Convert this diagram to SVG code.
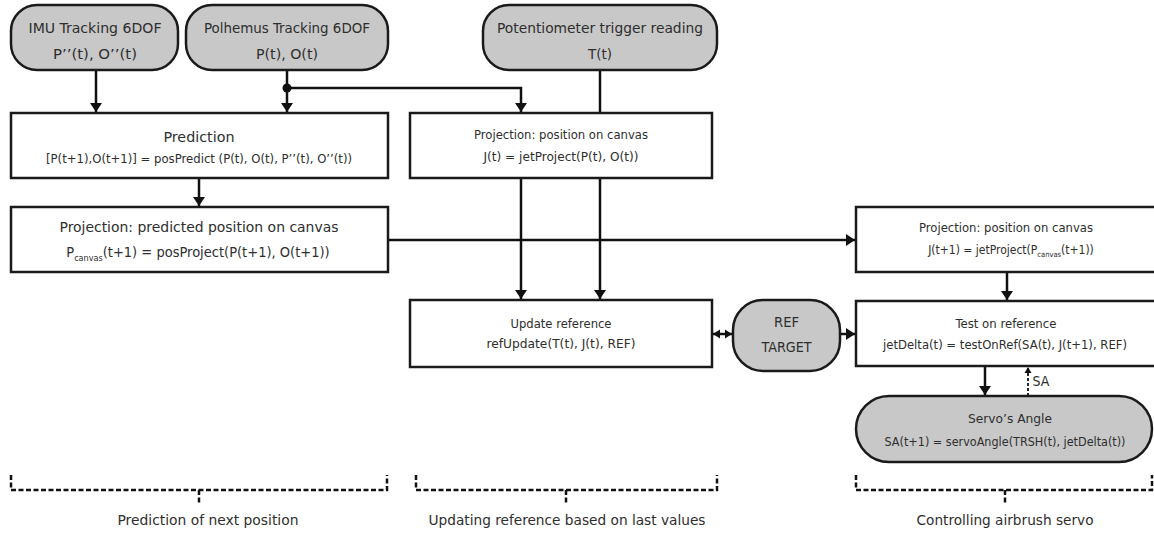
<svg xmlns="http://www.w3.org/2000/svg" width="1154" height="537" viewBox="0 0 1154 537">
<style>
.t{font-family:"DejaVu Sans Condensed","DejaVu Sans",sans-serif;fill:#2e2e2e;text-anchor:middle}
.big{font-size:14.5px}
.sm{font-size:11.5px}
.box{fill:#fff;stroke:#1a1a1a;stroke-width:2.5}
.rnd{fill:#c8c8c8;stroke:#1a1a1a;stroke-width:2.5}
.ln{fill:none;stroke:#111;stroke-width:2.5}
.dash{fill:none;stroke:#111;stroke-width:2.5;stroke-dasharray:5 2.5}
</style>
<defs>
<marker id="ah" markerUnits="userSpaceOnUse" markerWidth="12" markerHeight="12" refX="9" refY="6" orient="auto">
<path d="M0,0 L9,6 L0,12 z" fill="#111"/>
</marker>
<marker id="ahs" markerUnits="userSpaceOnUse" markerWidth="10" markerHeight="10" refX="7" refY="5" orient="auto-start-reverse">
<path d="M0,0.5 L7,5 L0,9.5 z" fill="#111"/>
</marker>
<marker id="ahd" markerUnits="userSpaceOnUse" markerWidth="8" markerHeight="8" refX="6" refY="4" orient="auto">
<path d="M0,0.5 L6,4 L0,7.5 z" fill="#111"/>
</marker>
</defs>

<g id="connectors">
<line class="ln" x1="96" y1="70" x2="96" y2="112" marker-end="url(#ah)"/>
<line class="ln" x1="287" y1="70" x2="287" y2="112" marker-end="url(#ah)"/>
<polyline class="ln" points="287,88 521,88 521,112" marker-end="url(#ah)"/>
<circle cx="287" cy="88" r="4.5" fill="#111"/>
<line class="ln" x1="600" y1="70" x2="600" y2="299" marker-end="url(#ah)"/>
<line class="ln" x1="521" y1="178" x2="521" y2="299" marker-end="url(#ah)"/>
<line class="ln" x1="199" y1="178" x2="199" y2="206" marker-end="url(#ah)"/>
<line class="ln" x1="388" y1="240" x2="855" y2="240" marker-end="url(#ah)"/>
<line class="ln" x1="1007" y1="272" x2="1007" y2="300" marker-end="url(#ah)"/>
<line class="ln" x1="713" y1="334" x2="732" y2="334" marker-start="url(#ahs)" marker-end="url(#ahs)"/>
<line class="ln" x1="840" y1="334" x2="855" y2="334" marker-end="url(#ah)"/>
<line class="ln" x1="985" y1="366" x2="985" y2="395" marker-end="url(#ah)"/>
<line x1="1028" y1="396" x2="1028" y2="367" stroke="#111" stroke-width="1.8" stroke-dasharray="3 2" marker-end="url(#ahd)"/>
<text class="t" x="1041" y="386" style="font-size:14px">SA</text>
</g>

<g id="imu">
<rect class="rnd" x="11" y="5" width="167" height="65" rx="26"/>
<text class="t big" x="95" y="33" textLength="133" lengthAdjust="spacingAndGlyphs">IMU Tracking 6DOF</text>
<text class="t big" x="95" y="59" textLength="84" lengthAdjust="spacingAndGlyphs">P’’(t), O’’(t)</text>
</g>
<g id="polhemus">
<rect class="rnd" x="186" y="5" width="202" height="65" rx="26"/>
<text class="t big" x="287" y="33" textLength="166" lengthAdjust="spacingAndGlyphs">Polhemus Tracking 6DOF</text>
<text class="t big" x="287" y="59" textLength="62" lengthAdjust="spacingAndGlyphs">P(t), O(t)</text>
</g>
<g id="potentiometer">
<rect class="rnd" x="483" y="5" width="234" height="65" rx="26"/>
<text class="t big" x="600" y="33" textLength="206" lengthAdjust="spacingAndGlyphs">Potentiometer trigger reading</text>
<text class="t big" x="600" y="59" textLength="24" lengthAdjust="spacingAndGlyphs">T(t)</text>
</g>
<g id="prediction">
<rect class="box" x="11" y="113" width="377" height="65"/>
<text class="t big" x="199" y="142" textLength="71" lengthAdjust="spacingAndGlyphs">Prediction</text>
<text class="t sm" x="199" y="163" textLength="306" lengthAdjust="spacingAndGlyphs">[P(t+1),O(t+1)] = posPredict (P(t), O(t), P’’(t), O’’(t))</text>
</g>
<g id="projection-predicted">
<rect class="box" x="11" y="207" width="377" height="65"/>
<text class="t big" x="199" y="232" textLength="279" lengthAdjust="spacingAndGlyphs">Projection: predicted position on canvas</text>
<text class="t big" x="198" y="257">P<tspan style="font-size:9px" dy="4">canvas</tspan><tspan dy="-4">(t+1) = posProject(P(t+1), O(t+1))</tspan></text>
</g>
<g id="projection-current">
<rect class="box" x="410" y="113" width="302" height="65"/>
<text class="t sm" x="561" y="139" textLength="174" lengthAdjust="spacingAndGlyphs">Projection: position on canvas</text>
<text class="t sm" x="561" y="161" textLength="155" lengthAdjust="spacingAndGlyphs">J(t) = jetProject(P(t), O(t))</text>
</g>
<g id="projection-next">
<rect class="box" x="856" y="207" width="302" height="65"/>
<text class="t sm" x="1006" y="232" textLength="174" lengthAdjust="spacingAndGlyphs">Projection: position on canvas</text>
<text class="t" x="1011" y="254" style="font-size:12px">J(t+1) = jetProject(P<tspan style="font-size:7.5px" dy="3">canvas</tspan><tspan dy="-3">(t+1))</tspan></text>
</g>
<g id="update-reference">
<rect class="box" x="410" y="300" width="302" height="67"/>
<text class="t sm" x="561" y="328" textLength="101" lengthAdjust="spacingAndGlyphs">Update reference</text>
<text class="t sm" x="561" y="348" textLength="149" lengthAdjust="spacingAndGlyphs">refUpdate(T(t), J(t), REF)</text>
</g>
<g id="ref-target">
<rect class="rnd" x="733" y="300" width="107" height="71" rx="30"/>
<text class="t" x="786.5" y="327" style="font-size:14px" textLength="25" lengthAdjust="spacingAndGlyphs">REF</text>
<text class="t" x="786.5" y="352" style="font-size:14px" textLength="50" lengthAdjust="spacingAndGlyphs">TARGET</text>
</g>
<g id="test-reference">
<rect class="box" x="856" y="301" width="302" height="65"/>
<text class="t sm" x="1006" y="328" textLength="101" lengthAdjust="spacingAndGlyphs">Test on reference</text>
<text class="t sm" x="1005" y="349" textLength="244" lengthAdjust="spacingAndGlyphs">jetDelta(t) = testOnRef(SA(t), J(t+1), REF)</text>
</g>
<g id="servo-angle">
<rect class="rnd" x="856" y="396" width="296" height="66" rx="33"/>
<text class="t sm" x="1010" y="423" textLength="84" lengthAdjust="spacingAndGlyphs">Servo’s Angle</text>
<text class="t sm" x="1005" y="446" textLength="241" lengthAdjust="spacingAndGlyphs">SA(t+1) = servoAngle(TRSH(t), jetDelta(t))</text>
</g>

<g id="bracket-prediction">
<path class="dash" d="M11,475 L11,490 L387,490 L387,475 M199,490 L199,505"/>
<text class="t big" x="208" y="525" textLength="181" lengthAdjust="spacingAndGlyphs">Prediction of next position</text>
</g>
<g id="bracket-updating">
<path class="dash" d="M416,475 L416,490 L717,490 L717,475 M566,490 L566,505"/>
<text class="t big" x="567" y="525" textLength="277" lengthAdjust="spacingAndGlyphs">Updating reference based on last values</text>
</g>
<g id="bracket-controlling">
<path class="dash" d="M856,475 L856,490 L1152,490 L1152,475 M1005,490 L1005,505"/>
<text class="t big" x="1005" y="525" textLength="177" lengthAdjust="spacingAndGlyphs">Controlling airbrush servo</text>
</g>
</svg>
